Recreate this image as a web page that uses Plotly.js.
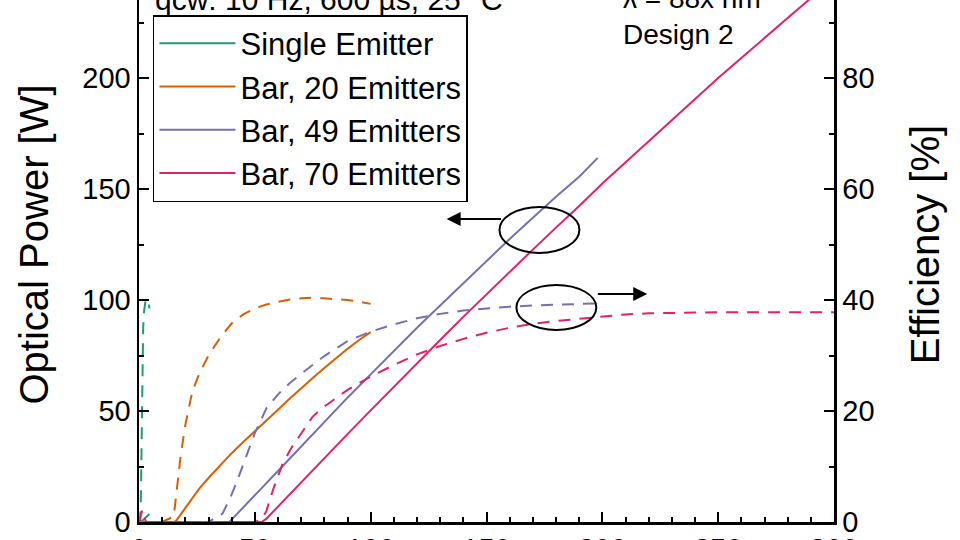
<!DOCTYPE html>
<html>
<head>
<meta charset="utf-8">
<script src="https://cdn.plot.ly/plotly-3.0.1.min.js"></script>
<style>
  html, body { margin: 0; padding: 0; overflow: hidden; background: #ffffff; width: 960px; height: 540px; }
  #chart { position: absolute; left: 0; top: -33px; width: 960px; height: 600px; }
</style>
</head>
<body>
<div id="chart"></div>
<script>
// ---- Data (current in A, optical power in W, efficiency in %) ----
const seriesNames = ["Single Emitter", "Bar, 20 Emitters", "Bar, 49 Emitters", "Bar, 70 Emitters"];
const seriesColors = ["#1b9e77", "#d95f02", "#7570b3", "#e3206b"];

const seCurrent = [0, 0.5, 0.8, 1.0, 1.2, 1.4, 1.6, 1.8, 2.2, 2.8, 3.4, 4.0, 4.5];
const sePower   = [0, 0, 0.05, 0.2, 0.35, 0.5, 0.7, 0.9, 1.3, 1.9, 2.5, 3.1, 3.6];
const seEff     = [0, 0, 4, 12, 20, 27, 32, 35, 38, 39.8, 40.2, 39.8, 38.5];

const b20Current = [0, 5, 10, 15, 16, 18, 20, 23, 26, 30, 35, 40, 45, 50, 55, 60, 65, 70, 75, 80, 85, 90, 95, 100];
const b20Power   = [0, 0, 0, 0, 0.5, 3.4, 6.3, 10.6, 15, 19.8, 25.6, 31, 36, 41, 45.8, 50.6, 55.5, 60.3, 64.9, 69.4, 73.8, 78, 82, 85.5];
const b20Eff     = [0, 0, 0, 1, 5, 12, 17.5, 23.5, 26.7, 30, 33.2, 35.8, 37.4, 38.5, 39.2, 39.7, 40.1, 40.3, 40.4, 40.3, 40.2, 40, 39.7, 39.3];

const b49Current = [0, 10, 20, 30, 36, 39, 42, 46, 50, 55, 60, 65, 70, 80, 90, 100, 110, 120, 130, 140, 150, 160, 170, 180, 190, 198];
const b49Power   = [0, 0, 0, 0, 0, 0, 3.3, 7.6, 12, 17.5, 23, 28.5, 34, 45, 56, 66.5, 77, 87.5, 97.5, 107.5, 117.5, 127.5, 137, 146.5, 155.5, 164];
const b49Eff     = [0, 0, 0, 0, 1.5, 4, 7, 11.5, 16, 20.5, 23, 25, 26.7, 29.9, 32.6, 34.3, 35.6, 36.7, 37.5, 38.1, 38.5, 38.8, 39, 39.1, 39.3, 39.4];

const b70Current = [0, 1.5, 3, 5, 10, 20, 30, 40, 50, 53, 55, 58, 62, 66, 70, 75, 80, 90, 100, 110, 120, 130, 140, 150, 160, 170, 180, 190, 200, 210, 220, 230, 240, 250, 260, 270, 280, 290, 300];
const b70Power   = [0, 0, 0, 0, 0, 0, 0, 0, 0, 0, 1.5, 4.8, 9.2, 13.6, 18, 23.4, 28.8, 39.6, 50.3, 61, 71.5, 82, 92.4, 102.6, 112.7, 122.7, 132.6, 142.3, 152.5, 162, 171.5, 181, 190.5, 200, 209, 218, 227, 236, 245];
const b70Eff     = [0, 2.2, 0, 0, 0, 0, 0, 0, 0, 0.5, 2, 6, 10.5, 13.5, 16, 19, 20.8, 23.8, 26.2, 28.3, 30.2, 31.7, 33, 34.1, 35, 35.7, 36.2, 36.6, 37, 37.4, 37.6, 37.7, 37.8, 37.8, 37.8, 37.8, 37.8, 37.8, 37.8];

const xTickVals = [0, 50, 100, 150, 200, 250, 300];
const yTickVals = [0, 50, 100, 150, 200];
const y2TickVals = [0, 20, 40, 60, 80];

// Decorations (ellipses and arrows), data coords
const ellipses = [
  {x0: 155.6, x1: 190.1, y0: 121.2, y1: 141.9},
  {x0: 162.9, x1: 197.4, y0: 86.5, y1: 106.8}
];
const arrows = [
  {fromX: 156.9, toX: 132.8, y: 136.5},
  {fromX: 197.4, toX: 219.4, y: 102.7}
];

// ---- Traces ----
const currents = [seCurrent, b20Current, b49Current, b70Current];
const powers = [sePower, b20Power, b49Power, b70Power];
const effs = [seEff, b20Eff, b49Eff, b70Eff];

const traces = [];
for (let i = 0; i < 4; i++) {
  traces.push({
    x: currents[i], y: powers[i], type: 'scatter', mode: 'lines',
    name: seriesNames[i], line: {color: seriesColors[i], width: 2}, yaxis: 'y'
  });
}
for (let i = 0; i < 4; i++) {
  traces.push({
    x: currents[i], y: effs[i], type: 'scatter', mode: 'lines',
    name: seriesNames[i] + ' (eff.)', showlegend: false,
    line: {color: seriesColors[i], width: 2, dash: '12px,9px'}, yaxis: 'y2'
  });
}

const FONT = "Arial, 'Liberation Sans', sans-serif";

const shapes = ellipses.map(e => ({
  type: 'circle', xref: 'x', yref: 'y', x0: e.x0, x1: e.x1, y0: e.y0, y1: e.y1,
  line: {color: '#000', width: 2}
}));

const annotations = arrows.map(a => ({
  x: a.toX, y: a.y, ax: a.fromX, ay: a.y, xref: 'x', yref: 'y', axref: 'x', ayref: 'y',
  text: '', showarrow: true, arrowhead: 2, arrowsize: 1.4, arrowwidth: 2, arrowcolor: '#000'
}));
annotations.push(
  {x: 6, y: 235.5, xref: 'x', yref: 'y', xanchor: 'left', yanchor: 'middle', showarrow: false,
   text: 'qcw: 10 Hz, 600 µs, 25 °C', font: {family: FONT, size: 30, color: '#000'}},
  {x: 208, y: 236, xref: 'x', yref: 'y', xanchor: 'left', yanchor: 'middle', showarrow: false,
   text: 'λ = 88x nm', font: {family: FONT, size: 28, color: '#000'}},
  {x: 208, y: 219.4, xref: 'x', yref: 'y', xanchor: 'left', yanchor: 'middle', showarrow: false,
   text: 'Design 2', font: {family: FONT, size: 28, color: '#000'}}
);

const axisCommon = {
  showgrid: false, zeroline: false, showline: true, linecolor: '#000', linewidth: 2.5,
  ticks: 'inside', ticklen: 10, tickwidth: 2, tickcolor: '#000',
  tickfont: {family: FONT, size: 29, color: '#000'}
};

const layout = {
  width: 960, height: 600,
  margin: {l: 139, r: 126, t: 0, b: 45},
  paper_bgcolor: '#fff', plot_bgcolor: '#fff',
  font: {family: FONT, color: '#000'},
  xaxis: Object.assign({}, axisCommon, {
    range: [0, 300], tickvals: xTickVals, mirror: true,
    minor: {dtick: 10, ticks: 'inside', ticklen: 5, tickwidth: 2, tickcolor: '#000'}
  }),
  yaxis: Object.assign({}, axisCommon, {
    range: [0, 250], tickvals: yTickVals,
    minor: {dtick: 25, ticks: 'inside', ticklen: 5, tickwidth: 2, tickcolor: '#000'},
    title: {text: 'Optical Power [W]', font: {family: FONT, size: 40, color: '#000'}, standoff: 22}
  }),
  yaxis2: Object.assign({}, axisCommon, {
    range: [0, 100], tickvals: y2TickVals, overlaying: 'y', side: 'right',
    minor: {dtick: 10, ticks: 'inside', ticklen: 5, tickwidth: 2, tickcolor: '#000'},
    title: {text: 'Efficiency [%]', font: {family: FONT, size: 40, color: '#000'}, standoff: 38}
  }),
  showlegend: true,
  legend: {
    x: 0.0201, y: 0.9135, xanchor: 'left', yanchor: 'top',
    bgcolor: '#fff', bordercolor: '#000', borderwidth: 1.5,
    font: {family: FONT, size: 31, color: '#000'},
    itemwidth: 76, tracegroupgap: 0
  },
  shapes: shapes,
  annotations: annotations
};

Plotly.newPlot('chart', traces, layout, {displayModeBar: false, staticPlot: true});
</script>
</body>
</html>
